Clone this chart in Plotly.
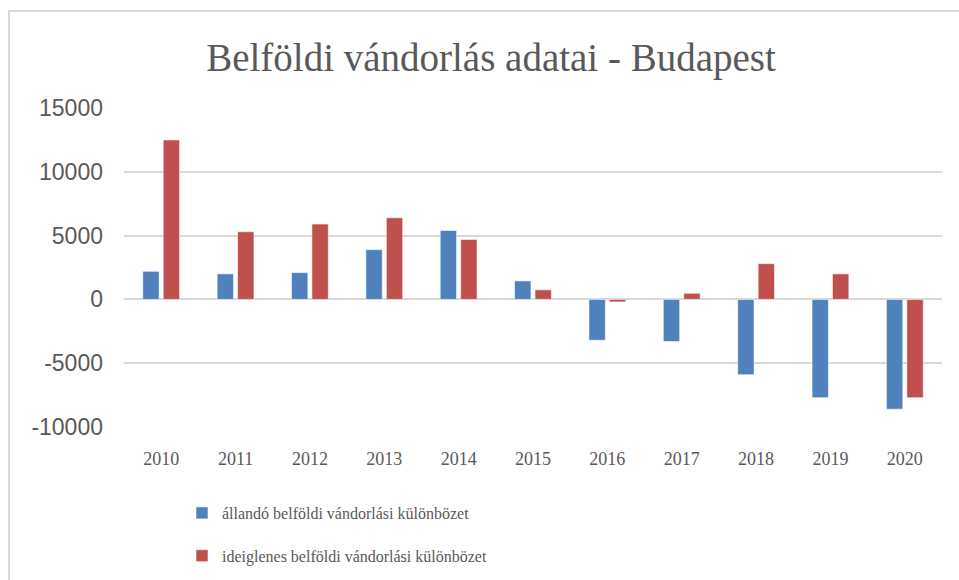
import plotly.graph_objects as go

years = ["2010", "2011", "2012", "2013", "2014", "2015", "2016", "2017", "2018", "2019", "2020"]
allando = [2200, 2000, 2100, 3900, 5400, 1450, -3200, -3300, -5900, -7700, -8600]
ideiglenes = [12500, 5300, 5900, 6400, 4700, 750, -200, 480, 2800, 2000, -7700]
name_a = "állandó belföldi vándorlási különbözet"
name_i = "ideiglenes belföldi vándorlási különbözet"
y_ticks = [-10000, -5000, 0, 5000, 10000, 15000]
y_tick_text = ["-10000", "-5000", "0", "5000", "10000", "15000"]

W, H = 959, 580
L, R, T, B = 124, 17, 108, 153
pw, ph = W - L - R, H - T - B

def px_x(p):
    return (p - L) / pw

def px_y(p):
    return (H - B - p) / ph

serif = "Liberation Serif, Times New Roman, serif"
sans = "Liberation Sans, Arial, sans-serif"

fig = go.Figure()
fig.add_trace(go.Bar(x=years, y=allando, name=name_a, legendgroup="a",
                     marker=dict(color="#4F81BD", line=dict(color="rgba(255,255,255,0.55)", width=1))))
fig.add_trace(go.Bar(x=years, y=ideiglenes, name=name_i, legendgroup="b",
                     marker=dict(color="#C0504D", line=dict(color="rgba(255,255,255,0.55)", width=1))))

fig.update_layout(
    width=W, height=H,
    margin=dict(l=L, r=R, t=T, b=B, autoexpand=False),
    paper_bgcolor="white", plot_bgcolor="white",
    barmode="group", bargap=0.45, bargroupgap=0.2,
    title=dict(text="Belföldi vándorlás adatai - Budapest", xref="container", yref="container",
               x=491 / W, y=1 - 57 / H, xanchor="center", yanchor="middle",
               font=dict(family=serif, size=39, color="#595959")),
    xaxis=dict(showgrid=False, showline=False, ticks="", ticklabelstandoff=19, tickangle=0,
               tickfont=dict(family=serif, size=18, color="#595959")),
    yaxis=dict(range=[-10000, 15000], tickvals=y_ticks, ticktext=y_tick_text, showgrid=True,
               gridcolor="#D9D9D9", gridwidth=1.5, zeroline=True, zerolinecolor="#D9D9D9",
               zerolinewidth=1.5, showline=False, ticks="", ticklabelstandoff=20,
               tickfont=dict(family=sans, size=23, color="#595959")),
    legend=dict(xref="container", yref="container", x=182 / W, y=1 - 496 / H,
                xanchor="left", yanchor="top", orientation="v", tracegroupgap=19,
                font=dict(family=serif, size=16, color="#595959"), bgcolor="rgba(0,0,0,0)"),
    shapes=[
        dict(type="line", xref="paper", yref="paper", x0=px_x(8), x1=px_x(W + 2), y0=px_y(11), y1=px_y(11),
             line=dict(color="#D9D9D9", width=2)),
        dict(type="line", xref="paper", yref="paper", x0=px_x(9), x1=px_x(9), y0=px_y(11), y1=px_y(H + 2),
             line=dict(color="#D9D9D9", width=2)),
    ],
)

fig.write_html("out.html", config={"displayModeBar": False},
               post_script="document.body.style.margin='0';document.body.style.overflow='hidden';")
